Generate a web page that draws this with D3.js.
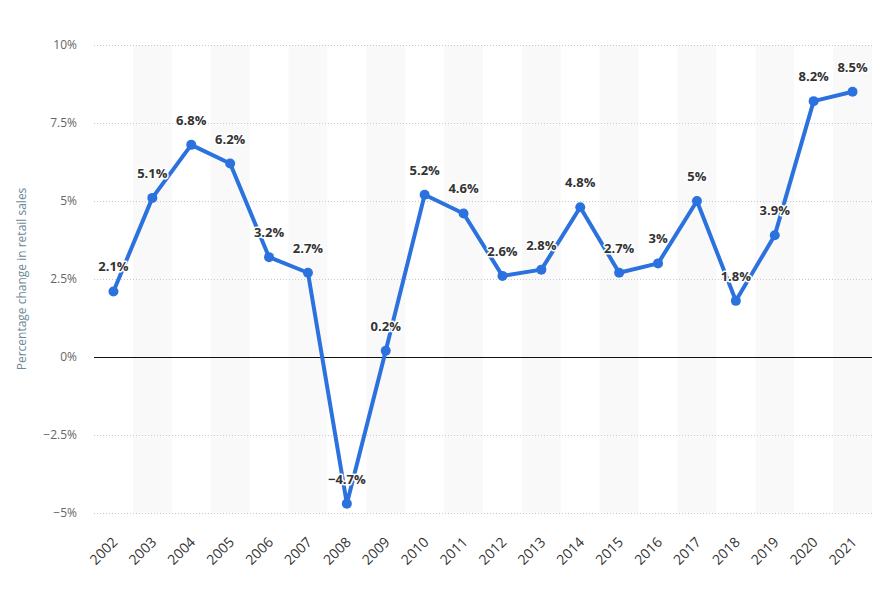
<!DOCTYPE html>
<html>
<head>
<meta charset="utf-8">
<script src="https://cdn.jsdelivr.net/npm/d3@7"></script>
<style>
  body { margin: 0; background: #fff; }
  svg text { font-family: "Open Sans", "DejaVu Sans", sans-serif; }
</style>
</head>
<body>
<div id="chart"></div>
<script>
// data
const years = ["2002","2003","2004","2005","2006","2007","2008","2009","2010","2011",
               "2012","2013","2014","2015","2016","2017","2018","2019","2020","2021"];
const retailChange = [2.1, 5.1, 6.8, 6.2, 3.2, 2.7, -4.7, 0.2, 5.2, 4.6,
                      2.6, 2.8, 4.8, 2.7, 3, 5, 1.8, 3.9, 8.2, 8.5];
const yTicks = [-5, -2.5, 0, 2.5, 5, 7.5, 10];
const yTitle = "Percentage change in retail sales";

const width = 881, height = 589;
const margin = {top: 45, right: 9, bottom: 76, left: 94};

const fmt = v => (v < 0 ? "\u2212" : "") + String(Math.abs(v)) + "%";

const svg = d3.select("#chart").append("svg")
    .attr("width", width)
    .attr("height", height);

const x = d3.scaleBand()
    .domain(years)
    .range([margin.left, width - margin.right])
    .padding(0);

const y = d3.scaleLinear()
    .domain([-5, 10])
    .range([height - margin.bottom, margin.top]);

// alternating column bands
svg.append("g").selectAll("rect")
    .data(years.filter((d, i) => i % 2 === 1))
    .join("rect")
    .attr("x", d => x(d))
    .attr("y", y(10))
    .attr("width", x.bandwidth())
    .attr("height", y(-5) - y(10))
    .attr("fill", "#f9f9f9");

// gridlines
svg.append("g").selectAll("line")
    .data(yTicks.filter(d => d !== 0))
    .join("line")
    .attr("x1", margin.left)
    .attr("x2", width - margin.right)
    .attr("y1", d => Math.round(y(d)) + 0.5)
    .attr("y2", d => Math.round(y(d)) + 0.5)
    .attr("stroke", "#c8c8c8")
    .attr("stroke-dasharray", "1,2");

// y axis
const yAxis = svg.append("g")
    .attr("transform", "translate(" + (margin.left - 17) + ",0)")
    .call(d3.axisLeft(y).tickValues(yTicks).tickSize(0).tickFormat(fmt));
yAxis.select(".domain").remove();
yAxis.selectAll("text")
    .attr("x", 0)
    .attr("fill", "#666")
    .style("font-size", "12px");

// x axis
const xAxis = svg.append("g")
    .attr("transform", "translate(0," + (height - margin.bottom) + ")")
    .call(d3.axisBottom(x).tickSize(0));
xAxis.select(".domain").remove();
xAxis.selectAll("text")
    .attr("fill", "#333")
    .style("font-size", "14px")
    .attr("text-anchor", "end")
    .attr("dy", 0)
    .attr("y", 0)
    .attr("transform", "translate(5,30) rotate(-45)");

// zero line
svg.append("line")
    .attr("x1", margin.left)
    .attr("x2", width - margin.right)
    .attr("y1", Math.round(y(0)) + 0.5)
    .attr("y2", Math.round(y(0)) + 0.5)
    .attr("stroke", "#111")
    .attr("stroke-width", 1);

// axis title
svg.append("text")
    .attr("transform", "translate(26," + ((y(10) + y(-5)) / 2) + ") rotate(-90)")
    .attr("text-anchor", "middle")
    .attr("fill", "#6b8896")
    .style("font-size", "12px")
    .text(yTitle);

const pts = years.map((d, i) => ({year: d, value: retailChange[i]}));
const cx = d => x(d.year) + x.bandwidth() / 2;

const line = d3.line()
    .x(cx)
    .y(d => y(d.value));

svg.append("path")
    .datum(pts)
    .attr("d", line)
    .attr("fill", "none")
    .attr("stroke", "#2b72de")
    .attr("stroke-width", 4)
    .attr("stroke-linejoin", "round")
    .attr("stroke-linecap", "round");

svg.append("g").selectAll("circle")
    .data(pts)
    .join("circle")
    .attr("cx", cx)
    .attr("cy", d => y(d.value))
    .attr("r", 5)
    .attr("fill", "#2b72de");

// value labels
svg.append("g").selectAll("text")
    .data(pts)
    .join("text")
    .attr("x", cx)
    .attr("y", d => y(d.value) - 20)
    .attr("text-anchor", "middle")
    .attr("fill", "#333")
    .attr("stroke", "#fff")
    .attr("stroke-width", 3)
    .attr("stroke-linejoin", "round")
    .attr("paint-order", "stroke")
    .style("font-size", "13px")
    .style("font-weight", "bold")
    .text(d => fmt(d.value));
</script>
</body>
</html>
